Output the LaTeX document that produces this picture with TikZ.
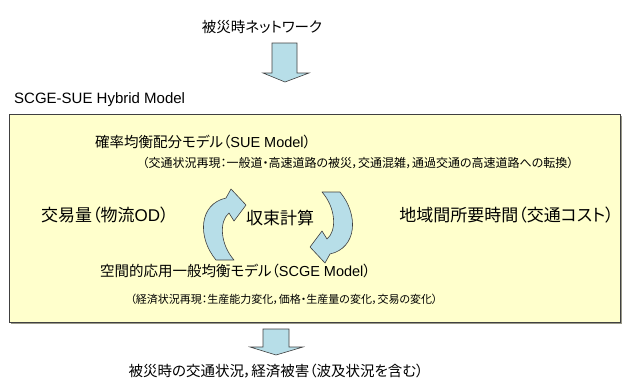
\documentclass[tikz,border=0pt]{standalone}
\usepackage{fontspec}
\setmainfont{Noto Sans CJK JP}[RawFeature=+palt]
\newfontfamily\arialfont{Liberation Sans}
\newcommand{\lat}[1]{{\arialfont #1}}
\definecolor{boxfill}{HTML}{FFFFCC}
\definecolor{arrowfill}{HTML}{B7DEE8}
\definecolor{edgegray}{HTML}{404040}
\definecolor{shadowgray}{HTML}{9A9A8A}
\begin{document}
\begin{tikzpicture}[x=1pt,y=-1pt,
  big/.style={inner sep=0pt, font=\fontsize{14.5}{16}\selectfont},
  mid/.style={inner sep=0pt, font=\fontsize{17}{19}\selectfont},
  small/.style={inner sep=0pt, font=\fontsize{11.5}{13}\selectfont},
  blockarrow/.style={fill=arrowfill, draw=edgegray, line width=0.6pt, line join=miter},
  cyclearrow/.style={fill=arrowfill, draw=edgegray, line width=0.6pt, line join=round},
  mainbox/.style={fill=boxfill, draw=edgegray, line width=0.8pt}]
\useasboundingbox (0,0) rectangle (622,389);
% top text and arrow
\node[big] (top) at (262,27) {被災時ネットワーク};
\path[blockarrow] (272,43) -- (297,43) -- (297,73) -- (309,73) -- (285,82) -- (263,73) -- (272,73) -- cycle;
% label
\node[inner sep=0pt, anchor=west, font=\arialfont\fontsize{15}{17}\selectfont] (lbl) at (14,100) {SCGE-SUE Hybrid Model};
% box with shadow
\fill[shadowgray] (11,116) rectangle (622,324);
\path[mainbox] (9,114) rectangle (620,322);
% texts in box
\node[big, anchor=west] (sue) at (95,142) {確率均衡配分モデル（\lat{SUE Model}）};
\node[small, font=\fontsize{12}{14}\selectfont] (suesub) at (358,163) {（交通状況再現：一般道・高速道路の被災，交通混雑，通過交通の高速道路への転換）};
\node[mid, anchor=west] (od) at (41,215) {交易量（物流\lat{OD}）};
\node[mid, anchor=east] (cost) at (614,215) {地域間所要時間（交通コスト）};
\node[mid] (conv) at (280,218) {収束計算};
\node[big, anchor=west] (scge) at (100,271) {空間的応用一般均衡モデル（\lat{SCGE Model}）};
\node[small, font=\fontsize{11}{13}\selectfont] (scgesub) at (284,299) {（経済状況再現：生産能力変化，価格・生産量の変化，交易の変化）};
% cycle arrows
\path[cyclearrow] (216,260) .. controls (197,237) and (199,204) .. (226,198)
  -- (231,189) -- (246,205) -- (234,221) -- (229,213)
  .. controls (219,221) and (220,244) .. (234,260) -- cycle;
\begin{scope}[rotate around={180:(278,226)}]
\path[cyclearrow] (216,260) .. controls (197,237) and (199,204) .. (226,198)
  -- (231,189) -- (246,205) -- (234,221) -- (229,213)
  .. controls (219,221) and (220,244) .. (234,260) -- cycle;
\end{scope}
% bottom arrow and text
\path[blockarrow] (263,329) -- (289,329) -- (289,347) -- (303,347) -- (276,355) -- (250,347) -- (263,347) -- cycle;
\node[big] (result) at (276,371) {被災時の交通状況，経済被害（波及状況を含む）};
\end{tikzpicture}
\end{document}
